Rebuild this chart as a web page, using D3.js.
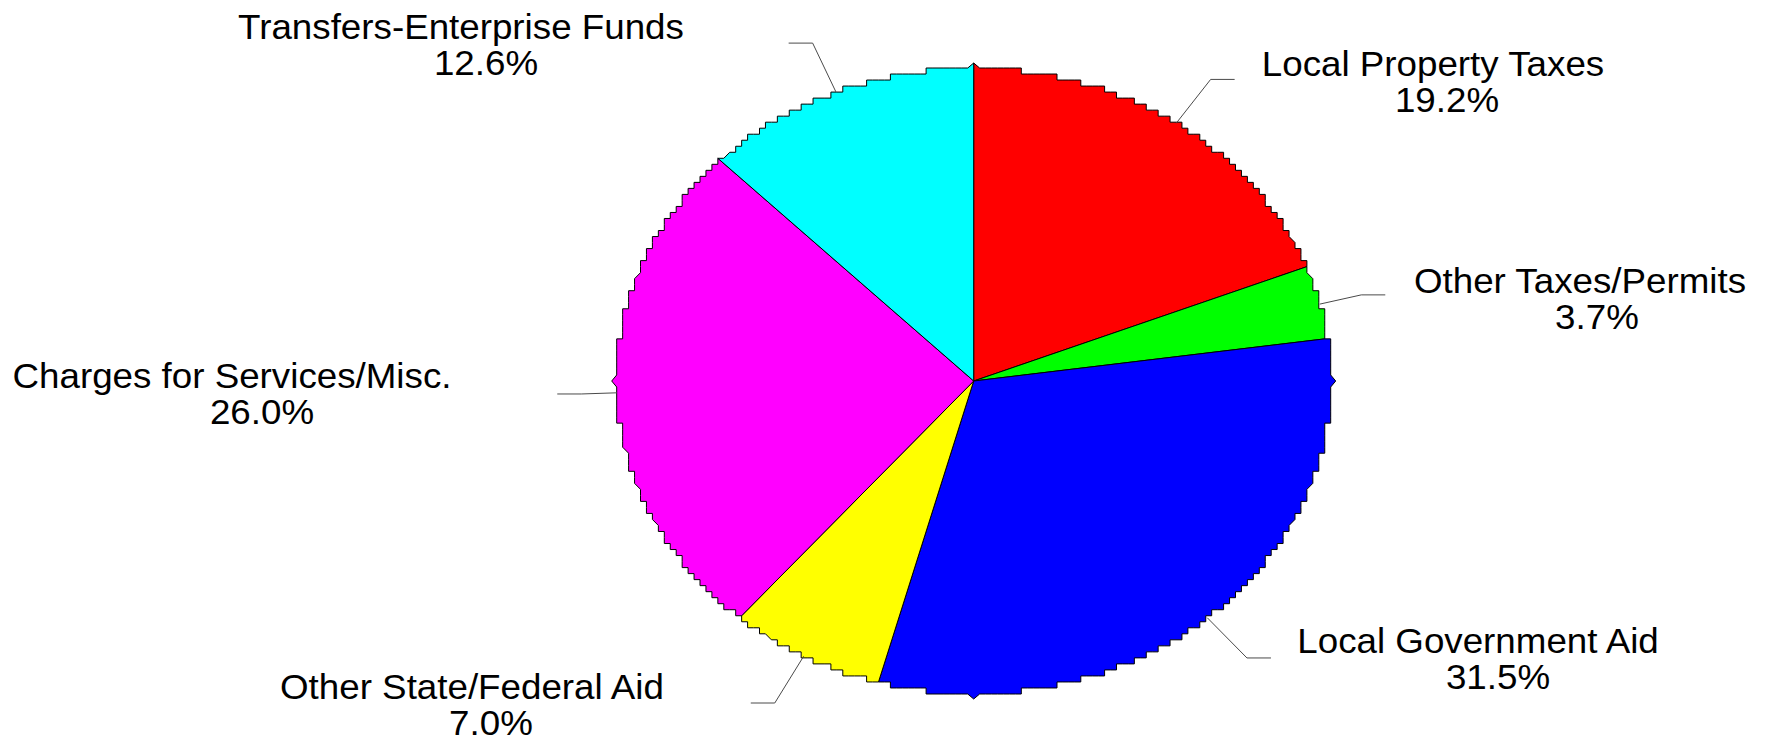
<!DOCTYPE html>
<html>
<head>
<meta charset="utf-8">
<script src="https://cdn.jsdelivr.net/npm/d3@7"></script>
<style>
  html, body { margin: 0; padding: 0; background: #ffffff; }
  svg { display: block; }
  .label { font-family: "Liberation Sans", Arial, sans-serif; font-size: 35px; fill: #000; }
</style>
</head>
<body>
<svg id="chart" width="1767" height="742"></svg>
<script>
// Revenue sources (percent of total), clockwise from 12 o'clock
const categories = [
  "Local Property Taxes",
  "Other Taxes/Permits",
  "Local Government Aid",
  "Other State/Federal Aid",
  "Charges for Services/Misc.",
  "Transfers-Enterprise Funds"
];
const shares = [19.2, 3.7, 31.5, 7.0, 26.0, 12.6];
const sliceColors = ["#ff0000", "#00ff00", "#0000ff", "#ffff00", "#ff00ff", "#00ffff"];

// Label placement: line-1 centre, line-2 centre, first baseline, leader elbow factor
const labelLayout = [
  { x1: 1433, x2: 1447, y: 76,  k: 1.17 },
  { x1: 1580, x2: 1597, y: 293, k: 1.12 },
  { x1: 1478, x2: 1498, y: 653, k: 1.17 },
  { x1: 472,  x2: 491,  y: 699, k: 1.17 },
  { x1: 232,  x2: 262,  y: 388, k: 1.10 },
  { x1: 461,  x2: 486,  y: 39,  k: 1.17 }
];

const svg = d3.select("#chart");
const cx = 973.7, cy = 381, rx = 357, ry = 313;
const lineGap = 36, tailLen = 24, notchDepth = 5;

// stepped rim: ellipse points snapped to a coarse grid
const gx = rx / Math.round(rx / 6), gy = ry / Math.round(ry / 6);
function rim(a) {
  const x = rx * Math.sin(a), y = -ry * Math.cos(a);
  return [cx + Math.round(x / gx) * gx, cy + Math.round(y / gy) * gy];
}

// small spikes at the four extremes of the ellipse
const quads = [
  { a: 0,               t: [1, 0],  n: [0, -1], h: gx, r: rx },
  { a: Math.PI / 2,     t: [0, 1],  n: [1, 0],  h: gy, r: ry },
  { a: Math.PI,         t: [-1, 0], n: [0, 1],  h: gx, r: rx },
  { a: 3 * Math.PI / 2, t: [0, -1], n: [-1, 0], h: gy, r: ry },
  { a: 2 * Math.PI,     t: [1, 0],  n: [0, -1], h: gx, r: rx }
];

function rimPoints(a0, a1) {
  const eps = 1e-9;
  const pts = [];
  const push = p => {
    const l = pts[pts.length - 1];
    if (!l || Math.abs(l[0] - p[0]) > 1e-6 || Math.abs(l[1] - p[1]) > 1e-6) pts.push(p);
  };
  const step = 0.002;
  const n = Math.max(1, Math.ceil((a1 - a0) / step));
  const items = [];
  for (let i = 0; i <= n; i++) {
    const a = a0 + (a1 - a0) * i / n;
    const near = quads.some(q => Math.abs(a - q.a) < (q.h * 1.15) / q.r);
    if (!near) items.push({ a });
  }
  quads.forEach(q => {
    if (q.a >= a0 - eps && q.a <= a1 + eps) items.push({ a: q.a, q });
  });
  items.sort((u, v) => u.a - v.a);
  items.forEach(it => {
    if (it.q) {
      const E = rim(it.q.a), t = it.q.t, nn = it.q.n, h = it.q.h;
      if (it.a > a0 + eps) push([E[0] - h * t[0], E[1] - h * t[1]]);
      push([E[0] + notchDepth * nn[0], E[1] + notchDepth * nn[1]]);
      if (it.a < a1 - eps) push([E[0] + h * t[0], E[1] + h * t[1]]);
    } else {
      push(rim(it.a));
    }
  });
  return pts;
}

const pie = d3.pie().sort(null).value(d => d).startAngle(0).endAngle(2 * Math.PI);
const arcs = pie(shares);

const slicePath = d => {
  const p = d3.path();
  const pts = rimPoints(d.startAngle, d.endAngle);
  p.moveTo(cx, cy);
  pts.forEach(pt => p.lineTo(pt[0], pt[1]));
  p.closePath();
  return p.toString();
};

svg.append("g")
  .selectAll("path")
  .data(arcs)
  .join("path")
  .attr("d", slicePath)
  .attr("fill", (d, i) => sliceColors[i])
  .attr("stroke", "#000")
  .attr("stroke-width", 1)
  .attr("stroke-linejoin", "miter");

// leader lines: rim -> elbow -> short horizontal tail
const leader = d3.line();
svg.append("g")
  .selectAll("path")
  .data(arcs)
  .join("path")
  .attr("d", (d, i) => {
    const m = (d.startAngle + d.endAngle) / 2;
    const s = Math.sin(m), c = Math.cos(m), k = labelLayout[i].k;
    const p0 = [cx + rx * s, cy - ry * c];
    const p1 = [cx + k * rx * s, cy - k * ry * c];
    const p2 = [p1[0] + Math.sign(s) * tailLen, p1[1]];
    return leader([p0, p1, p2]);
  })
  .attr("fill", "none")
  .attr("stroke", "#4a4a4a")
  .attr("stroke-width", 1);

// category name and percentage
const fmt = d3.format(".1f");
const labels = svg.append("g").selectAll("g").data(arcs).join("g");
labels.append("text")
  .attr("class", "label")
  .attr("text-anchor", "middle")
  .attr("transform", (d, i) => `translate(${labelLayout[i].x1},${labelLayout[i].y}) scale(1.05,1)`)
  .text((d, i) => categories[i]);
labels.append("text")
  .attr("class", "label")
  .attr("text-anchor", "middle")
  .attr("transform", (d, i) => `translate(${labelLayout[i].x2},${labelLayout[i].y + lineGap}) scale(1.05,1)`)
  .text(d => fmt(d.data) + "%");
</script>
</body>
</html>
